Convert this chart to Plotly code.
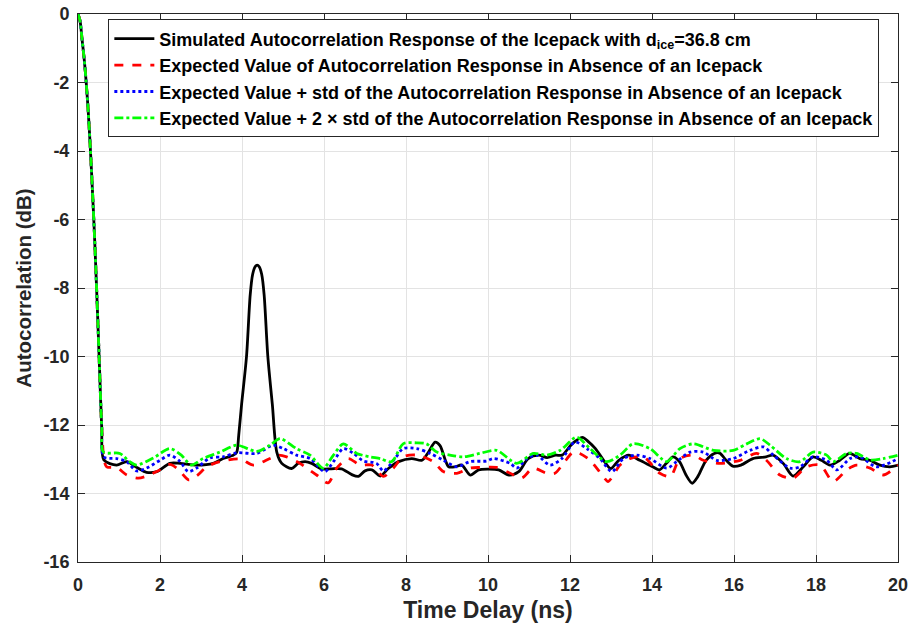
import plotly.graph_objects as go

# shared steep decay near zero delay
decay_x = [0.0, 0.05, 0.1, 0.15, 0.2, 0.25, 0.3, 0.35, 0.4, 0.45, 0.5, 0.55, 0.58]
decay_y = [0.0, -0.2, -0.75, -1.3, -2.0, -2.85, -3.9, -5.1, -6.4, -7.9, -9.5, -11.2, -12.1]

sim_x = [0.63, 0.94, 1.19, 1.45, 1.67, 1.92, 2.24, 2.49, 2.89, 3.30, 3.54, 3.79, 3.87,
         3.92, 3.99, 4.11, 4.20, 4.26, 4.32, 4.37, 4.42, 4.48, 4.54, 4.63, 4.74, 4.85,
         4.97, 5.21, 5.37, 5.54, 5.70, 5.94, 6.18, 6.43, 6.68, 6.84, 7.0, 7.17, 7.37, 7.57,
         7.82, 8.14, 8.39, 8.55, 8.71, 8.83, 8.96, 9.04, 9.2, 9.36, 9.57, 9.77, 10.02, 10.26,
         10.51, 10.75, 10.98, 11.24, 11.44, 11.65, 11.81, 12.05, 12.30, 12.46, 12.62, 12.82,
         12.99, 13.19, 13.43, 13.7, 14.02, 14.18, 14.35, 14.51, 14.67, 14.83, 14.98, 15.12,
         15.32, 15.52, 15.65, 15.81, 15.97, 16.17, 16.46, 16.78, 16.95, 17.2, 17.44, 17.69,
         17.93, 18.13, 18.34, 18.58, 18.82, 19.07, 19.31, 19.56, 19.8, 20.0]
sim_y = [-13.02, -13.17, -13.07, -13.25, -13.38, -13.36, -13.12, -13.12, -13.17, -13.12, -12.98, -12.88, -12.8,
         -12.3, -11.4, -10.0, -8.2, -7.6, -7.38, -7.33, -7.38, -7.6, -8.2, -10.0, -11.4, -12.8,
         -13.12, -13.27, -13.12, -13.07, -13.12, -13.28, -13.28, -13.28, -13.45, -13.5, -13.34, -13.31, -13.49, -13.27,
         -13.07, -12.98, -13.03, -12.79, -12.5, -12.6, -13.03, -13.22, -13.22, -13.17, -13.46, -13.31, -13.29, -13.31,
         -13.46, -13.36, -12.98, -12.88, -12.95, -12.88, -12.88, -12.55, -12.36, -12.5, -12.69, -13.03,
         -13.27, -13.03, -12.88, -13.03, -13.22, -13.31, -13.12, -12.93, -13.07, -13.46, -13.7, -13.5,
         -13.03, -12.83, -12.82, -13.03, -13.2, -13.17, -12.98, -12.93, -12.88, -13.12, -13.49, -13.22,
         -12.93, -13.03, -13.17, -13.03, -12.83, -12.98, -13.03, -13.17, -13.22, -13.17]

exp_x = [0.64, 0.70, 0.95, 1.19, 1.47, 1.70, 1.92, 2.24, 2.45, 2.7, 2.9, 3.14, 3.46, 3.95, 4.28,
         4.68, 4.89, 5.09, 5.41, 5.82, 6.10, 6.31, 6.59, 6.88, 7.16, 7.45, 7.69, 7.93, 8.26, 8.67,
         8.91, 9.24, 9.56, 9.80, 10.21, 10.54, 10.82, 11.10, 11.43, 11.63, 11.84, 12.08, 12.24,
         12.49, 12.81, 12.93, 13.22, 13.46, 13.79, 14.19, 14.45, 14.68, 15.01, 15.25, 15.66, 16.15,
         16.55, 16.79, 17.12, 17.44, 17.77, 18.10, 18.42, 18.75, 18.99, 19.32, 19.64, 20.0]
exp_y = [-13.05, -13.22, -13.25, -13.46, -13.55, -13.48, -13.36, -13.15, -13.3, -13.6, -13.48, -13.22, -13.07, -12.99, -13.17,
         -12.98, -12.88, -12.93, -13.12, -13.46, -13.69, -13.26, -12.98, -13.17, -13.17, -13.5, -13.26, -12.93, -12.88, -13.07,
         -13.36, -13.41, -13.26, -13.24, -13.24, -13.41, -13.55, -13.26, -13.41, -13.41, -13.12, -12.79, -12.83,
         -13.03, -13.5, -13.65, -13.17, -12.98, -12.93, -13.41, -13.5, -12.98, -12.88, -13.03, -13.12, -13.03,
         -12.83, -13.03, -13.46, -13.55, -13.22, -13.17, -13.65, -13.31, -13.17, -13.26, -13.46, -13.17]

std1_x = [0.63, 0.94, 1.19, 1.43, 1.67, 2.0, 2.24, 2.49, 2.69, 2.89, 3.22, 3.54, 3.87, 4.36, 4.76,
          5.01, 5.33, 5.66, 6.02, 6.23, 6.47, 6.72, 6.96, 7.28, 7.45, 7.73, 7.93, 8.26, 8.59, 8.91,
          9.24, 9.56, 9.97, 10.13, 10.54, 10.7, 10.95, 11.19, 11.51, 11.8, 12.12, 12.41, 12.73,
          13.02, 13.3, 13.63, 13.95, 14.36, 14.6, 14.93, 15.25, 15.58, 15.98, 16.39, 16.72, 16.96,
          17.37, 17.61, 17.93, 18.26, 18.51, 18.83, 19.07, 19.48, 20.0]
std1_y = [-12.93, -12.98, -13.07, -13.34, -13.26, -13.03, -12.88, -13.07, -13.36, -13.26, -12.96, -12.93, -12.81, -12.83, -12.59,
          -12.69, -12.88, -12.98, -13.36, -13.07, -12.69, -12.83, -13.05, -13.12, -13.34, -12.98, -12.69, -12.69, -12.83, -13.03,
          -13.22, -13.07, -13.05, -12.98, -13.12, -13.26, -12.98, -12.88, -13.17, -12.98, -12.5, -12.69, -12.98,
          -13.36, -12.98, -12.88, -12.98, -13.26, -13.07, -12.79, -12.79, -13.03, -12.98, -12.74, -12.64, -12.88,
          -13.26, -13.22, -12.93, -13.03, -13.31, -12.98, -12.93, -13.22, -12.98]

std2_x = [0.62, 1.02, 1.26, 1.43, 1.84, 2.24, 2.52, 2.76, 3.05, 3.46, 3.87, 4.36, 4.68, 4.93,
          5.33, 5.66, 5.98, 6.23, 6.47, 6.8, 7.12, 7.37, 7.65, 7.93, 8.26, 8.5, 8.75, 9.07, 9.4,
          9.8, 10.21, 10.7, 11.1, 11.43, 11.76, 12.16, 12.49, 12.89, 13.22, 13.54, 13.95, 14.36,
          14.68, 15.01, 15.5, 15.98, 16.31, 16.64, 16.88, 17.28, 17.61, 17.93, 18.26, 18.42, 18.75,
          18.99, 19.32, 19.64, 20.0]
std2_y = [-12.79, -12.83, -13.07, -13.17, -12.96, -12.69, -12.88, -13.17, -12.98, -12.79, -12.59, -12.77, -12.59, -12.4,
          -12.69, -12.88, -13.26, -12.88, -12.55, -12.83, -12.93, -12.98, -13.07, -12.55, -12.52, -12.55, -12.79, -12.88, -12.93,
          -12.83, -12.74, -13.12, -12.83, -12.88, -12.74, -12.36, -12.69, -13.07, -12.88, -12.55, -12.69, -13.07,
          -12.69, -12.55, -12.74, -12.74, -12.55, -12.4, -12.59, -12.98, -13.07, -12.79, -12.88, -13.07, -12.83,
          -12.83, -13.02, -12.98, -12.88]

names = [
    "Simulated Autocorrelation Response of the Icepack with d<sub>ice</sub>=36.8 cm",
    "Expected Value of Autocorrelation Response in Absence of an Icepack",
    "Expected Value + std of the Autocorrelation Response in Absence of an Icepack",
    "Expected Value + 2 \u00d7 std of the Autocorrelation Response in Absence of an Icepack",
]

x_ticks = list(range(0, 21, 2))
y_ticks = list(range(-16, 1, 2))
x_ticktext = [str(v) for v in x_ticks]
y_ticktext = [str(v) for v in y_ticks]  # ASCII hyphen-minus like the reference

FONT = "Liberation Sans, Arial, sans-serif"
TXT = "#262626"

fig = go.Figure()
series = [
    (sim_x, sim_y, "#000000", "solid"),
    (exp_x, exp_y, "#ff0000", "dash"),
    (std1_x, std1_y, "#0000ff", "dot"),
    (std2_x, std2_y, "#00ff00", "dashdot"),
]
for (sx, sy, col, dash), nm in zip(series, names):
    fig.add_trace(go.Scatter(
        x=decay_x + sx, y=decay_y + sy, mode="lines", name=nm,
        line=dict(color=col, width=2.8, dash=dash, shape="spline", smoothing=0.8),
    ))

axis_common = dict(
    showline=True, linecolor=TXT, linewidth=1, mirror="ticks",
    ticks="inside", ticklen=7, tickcolor=TXT, tickwidth=1,
    showgrid=True, gridcolor="#e3e3e3", gridwidth=1, zeroline=False,
    ticklabeloverflow="allow",
    tickfont=dict(family=FONT, size=18, color=TXT, weight="bold"),
)
fig.update_xaxes(range=[0, 20], tickvals=x_ticks, ticktext=x_ticktext, ticklabelstandoff=6,
                 title=dict(text="Time Delay (ns)", font=dict(family=FONT, size=23, color=TXT, weight="bold"), standoff=8),
                 **axis_common)
fig.update_yaxes(range=[-16, 0], tickvals=y_ticks, ticktext=y_ticktext, ticklabelstandoff=4,
                 title=dict(text="Autocorrelation (dB)", font=dict(family=FONT, size=20.5, color=TXT, weight="bold"), standoff=6),
                 **axis_common)

fig.update_layout(
    width=912, height=632,
    margin=dict(l=78, r=14, t=4, b=70),
    paper_bgcolor="white", plot_bgcolor="white",
    legend=dict(x=0.037, y=0.99, xanchor="left", yanchor="top",
                bgcolor="white", bordercolor=TXT, borderwidth=1, itemwidth=40,
                font=dict(family=FONT, size=18, color="#000000", weight="bold")),
    showlegend=True,
)

fig.write_html("out.html")
